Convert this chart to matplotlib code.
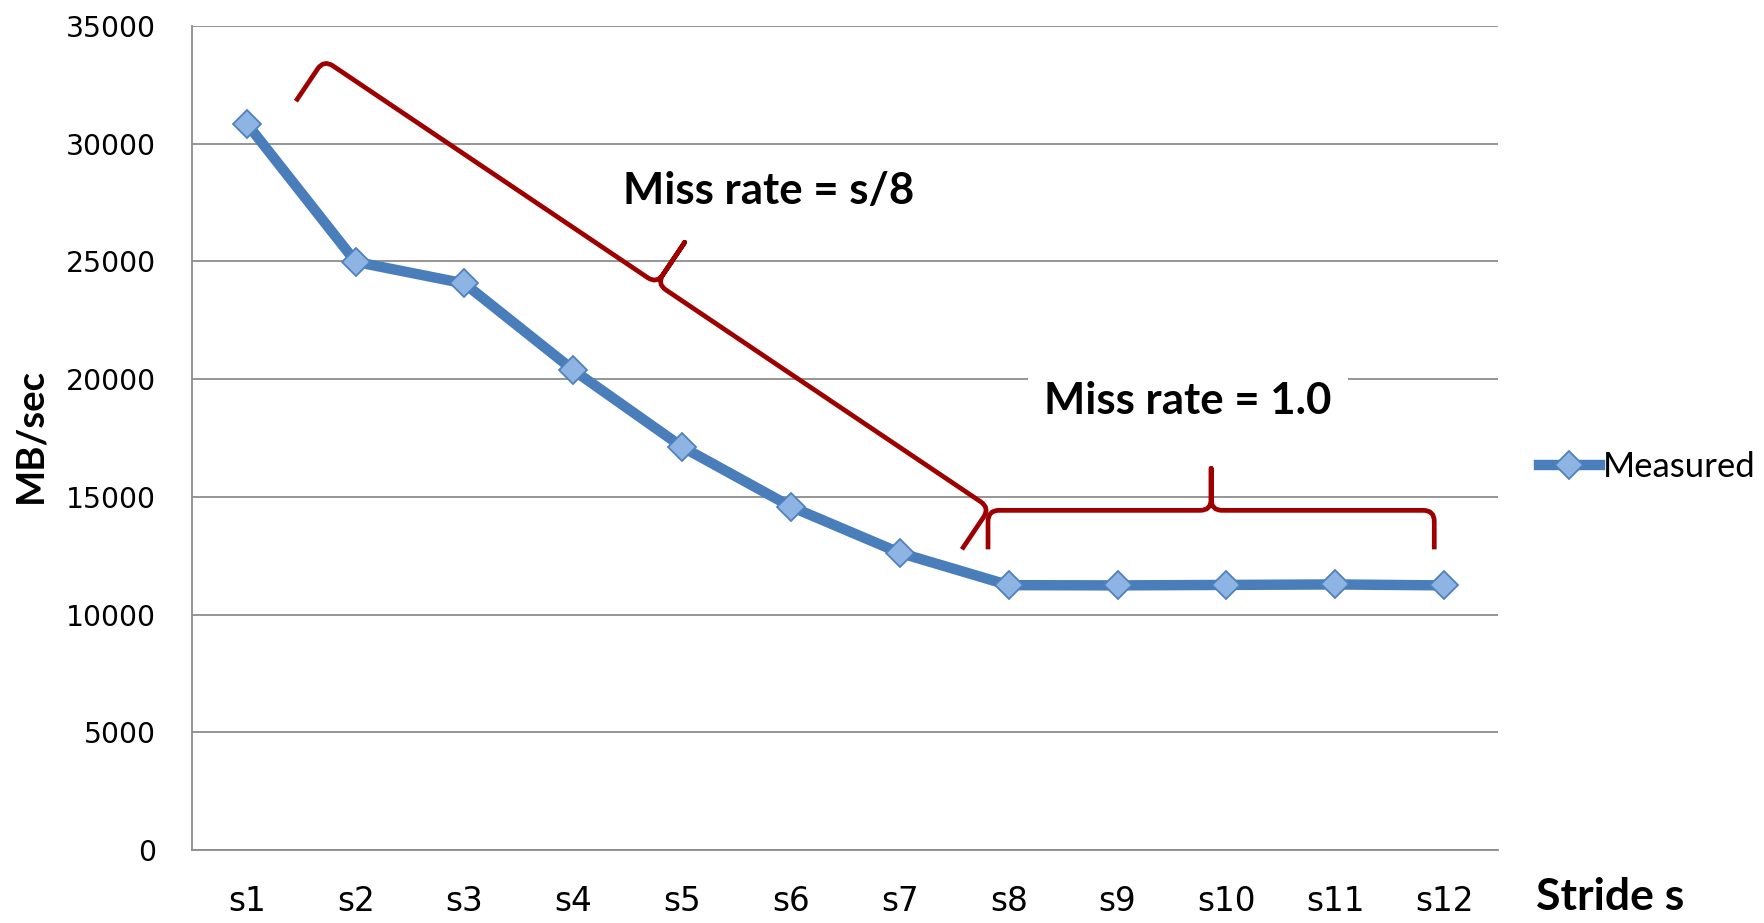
import numpy as np
import matplotlib
matplotlib.use("Agg")
import matplotlib.pyplot as plt
from matplotlib.path import Path
from matplotlib.patches import PathPatch

# data
strides = ["s1", "s2", "s3", "s4", "s5", "s6", "s7", "s8", "s9", "s10", "s11", "s12"]
measured = [30850, 24980, 24060, 20380, 17120, 14580, 12620, 11250, 11240, 11260, 11280, 11240]
y_ticks = [0, 5000, 10000, 15000, 20000, 25000, 30000, 35000]

BLUE = "#4a7ebb"
MARKER_FACE = "#8db4e2"
RED = "#9e0000"
GRID = "#8c8c8c"


def draw_brace(ax, start, end, arm, tip, r=11, color=RED, lw=3.4):
    """Curly brace from start to end (data coords), arm/tip in pixels, tip on left normal."""
    p0 = ax.transData.transform(start)
    p1 = ax.transData.transform(end)
    d = p1 - p0
    L = np.hypot(*d)
    u = d / L
    n = np.array([-u[1], u[0]])
    h = L / 2
    local = [
        (0, 0), (0, arm - r), (0, arm), (r, arm),
        (h - r, arm), (h, arm), (h, arm + r), (h, arm + tip),
        (h, arm + r), (h, arm), (h + r, arm),
        (L - r, arm), (L, arm), (L, arm - r), (L, 0),
    ]
    codes = [Path.MOVETO, Path.LINETO, Path.CURVE3, Path.CURVE3,
             Path.LINETO, Path.CURVE3, Path.CURVE3, Path.LINETO,
             Path.LINETO, Path.CURVE3, Path.CURVE3,
             Path.LINETO, Path.CURVE3, Path.CURVE3, Path.LINETO]
    pts = np.array([p0 + s * u + v * n for s, v in local])
    pts = ax.transData.inverted().transform(pts)
    ax.add_patch(PathPatch(Path(pts, codes), fill=False, edgecolor=color,
                           linewidth=lw, capstyle="butt", joinstyle="round",
                           clip_on=False, zorder=4))


fig = plt.figure(figsize=(17.65, 9.23), dpi=100)
ax = fig.add_axes([0.109, 0.079, 0.740, 0.893])

x = np.arange(len(strides))
ax.plot(x, measured, color=BLUE, linewidth=7.5, marker="D", markersize=14.5,
        markerfacecolor=MARKER_FACE, markeredgecolor="#4f81bd",
        markeredgewidth=1.3, label="Measured", zorder=5, solid_joinstyle="round")

ax.set_xlim(-0.5, len(strides) - 0.5)
ax.set_ylim(0, 35000)
ax.set_yticks(y_ticks)
ax.set_yticklabels([str(v) for v in y_ticks])
ax.set_xticks(x)
ax.set_xticklabels(strides)
ax.tick_params(axis="y", length=0, pad=26, labelsize=20.3)
ax.tick_params(axis="x", length=0, pad=25, labelsize=23.5)
ax.yaxis.grid(True, color=GRID, linewidth=1.3)
ax.set_axisbelow(True)
for side in ["top", "right"]:
    ax.spines[side].set_visible(False)
for side in ["left", "bottom"]:
    ax.spines[side].set_color(GRID)
    ax.spines[side].set_linewidth(1.3)

# braces
draw_brace(ax, (0.451, 31800), (6.57, 12770), arm=50, tip=50)
draw_brace(ax, (6.81, 12770), (10.91, 12770), arm=39, tip=42)

ax.text(4.79, 27970, "Miss rate = s/8", fontsize=31.5, fontweight="bold",
        family="Lato", ha="center", va="center", zorder=6)
ax.text(8.647, 19080, "Miss rate = 1.0", fontsize=31.5, fontweight="bold",
        family="Lato", ha="center", va="center", zorder=6,
        bbox=dict(facecolor="white", edgecolor="none", pad=12))

fig.text(0.017, 0.528, "MB/sec", rotation=90, fontsize=27.5, fontweight="bold",
         family="Lato", ha="center", va="center")
fig.text(0.912, 0.028, "Stride s", fontsize=32, fontweight="bold",
         family="Lato", ha="center", va="center")

fig.legend(loc="center left", bbox_to_anchor=(0.872, 0.494), frameon=False,
           borderpad=0, borderaxespad=0, handlelength=1.75, handletextpad=0.08,
           prop={"family": "Lato", "size": 25})

fig.savefig("out.png", dpi=100)
